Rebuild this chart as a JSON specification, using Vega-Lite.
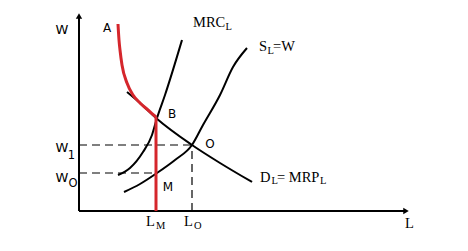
{
  "$schema": "https://vega.github.io/schema/vega-lite/v6.json",
  "width": 468,
  "height": 251,
  "autosize": {"type": "fit", "contains": "padding"},
  "padding": 0,
  "background": "white",
  "config": {"view": {"stroke": null}},
  "encoding": {
    "x": {"type": "quantitative", "scale": {"domain": [-79, 389]}, "axis": null},
    "y": {"type": "quantitative", "scale": {"domain": [-40, 211]}, "axis": null}
  },
  "layer": [
    {
      "data": {"values": [
        {"x": 0, "y": 0, "x2": 0, "y2": 194},
        {"x": 0, "y": 0, "x2": 326, "y2": 0}
      ]},
      "mark": {"type": "rule", "color": "black", "strokeWidth": 2},
      "encoding": {"x": {"field": "x"}, "y": {"field": "y"}, "x2": {"field": "x2"}, "y2": {"field": "y2"}}
    },
    {
      "data": {"values": [{"x": 0, "y": 195}]},
      "mark": {"type": "point", "shape": "triangle-up", "filled": true, "color": "black", "size": 40, "opacity": 1},
      "encoding": {"x": {"field": "x"}, "y": {"field": "y"}}
    },
    {
      "data": {"values": [{"x": 327, "y": 0}]},
      "mark": {"type": "point", "shape": "triangle-right", "filled": true, "color": "black", "size": 40, "opacity": 1},
      "encoding": {"x": {"field": "x"}, "y": {"field": "y"}}
    },
    {
      "data": {"values": [
        {"x": 0, "y": 66, "x2": 113, "y2": 66},
        {"x": 0, "y": 38, "x2": 78, "y2": 38},
        {"x": 113, "y": 0, "x2": 113, "y2": 66}
      ]},
      "mark": {"type": "rule", "color": "black", "strokeWidth": 1.2, "strokeDash": [8, 5]},
      "encoding": {"x": {"field": "x"}, "y": {"field": "y"}, "x2": {"field": "x2"}, "y2": {"field": "y2"}}
    },
    {
      "data": {"values": [
        {"c": "MRC", "o": 1, "x": 39, "y": 36},
        {"c": "MRC", "o": 2, "x": 51, "y": 43},
        {"c": "MRC", "o": 3, "x": 64, "y": 59},
        {"c": "MRC", "o": 4, "x": 73, "y": 76},
        {"c": "MRC", "o": 5, "x": 78, "y": 93},
        {"c": "MRC", "o": 6, "x": 86, "y": 116},
        {"c": "MRC", "o": 7, "x": 103, "y": 171},
        {"c": "S", "o": 1, "x": 45, "y": 19},
        {"c": "S", "o": 2, "x": 61, "y": 27},
        {"c": "S", "o": 3, "x": 78, "y": 38},
        {"c": "S", "o": 4, "x": 96, "y": 51},
        {"c": "S", "o": 5, "x": 113, "y": 66},
        {"c": "S", "o": 6, "x": 124, "y": 86},
        {"c": "S", "o": 7, "x": 141, "y": 116},
        {"c": "S", "o": 8, "x": 154, "y": 144},
        {"c": "S", "o": 9, "x": 168, "y": 163},
        {"c": "D", "o": 1, "x": 48, "y": 119},
        {"c": "D", "o": 2, "x": 61, "y": 108},
        {"c": "D", "o": 3, "x": 77, "y": 93},
        {"c": "D", "o": 4, "x": 113, "y": 66},
        {"c": "D", "o": 5, "x": 141, "y": 48},
        {"c": "D", "o": 6, "x": 173, "y": 29}
      ]},
      "mark": {"type": "line", "color": "black", "strokeWidth": 2, "interpolate": "monotone"},
      "encoding": {"x": {"field": "x"}, "y": {"field": "y"}, "detail": {"field": "c"}, "order": {"field": "o"}}
    },
    {
      "data": {"values": [
        {"c": "A", "o": 1, "x": 39, "y": 187},
        {"c": "A", "o": 2, "x": 40, "y": 171},
        {"c": "A", "o": 3, "x": 41, "y": 161},
        {"c": "A", "o": 4, "x": 43, "y": 146},
        {"c": "A", "o": 5, "x": 48, "y": 128},
        {"c": "A", "o": 6, "x": 54, "y": 116},
        {"c": "A", "o": 7, "x": 61, "y": 108},
        {"c": "A", "o": 8, "x": 69, "y": 101},
        {"c": "A", "o": 9, "x": 77, "y": 94},
        {"c": "V", "o": 1, "x": 77, "y": 94},
        {"c": "V", "o": 2, "x": 77, "y": 0}
      ]},
      "mark": {"type": "line", "color": "#d5262c", "strokeWidth": 3, "interpolate": "monotone"},
      "encoding": {"x": {"field": "x"}, "y": {"field": "y"}, "detail": {"field": "c"}, "order": {"field": "o"}}
    },
    {
      "data": {"values": [
        {"t": "W", "x": -17, "y": 181},
        {"t": "W", "x": -17, "y": 63},
        {"t": "W", "x": -17, "y": 33}
      ]},
      "mark": {"type": "text", "font": "DejaVu Sans", "fontSize": 13, "align": "center", "baseline": "middle", "color": "black"},
      "encoding": {"x": {"field": "x"}, "y": {"field": "y"}, "text": {"field": "t"}}
    },
    {
      "data": {"values": [
        {"t": "A", "x": 28, "y": 183},
        {"t": "B", "x": 93, "y": 97},
        {"t": "O", "x": 131, "y": 67},
        {"t": "M", "x": 89, "y": 24}
      ]},
      "mark": {"type": "text", "font": "DejaVu Sans", "fontSize": 12, "align": "center", "baseline": "middle", "color": "black"},
      "encoding": {"x": {"field": "x"}, "y": {"field": "y"}, "text": {"field": "t"}}
    },
    {
      "data": {"values": [
        {"t": "1", "x": -7.5, "y": 55},
        {"t": "O", "x": -6, "y": 27}
      ]},
      "mark": {"type": "text", "font": "DejaVu Sans", "fontSize": 11.5, "align": "center", "baseline": "middle", "color": "black"},
      "encoding": {"x": {"field": "x"}, "y": {"field": "y"}, "text": {"field": "t"}}
    },
    {
      "data": {"values": [
        {"t": "MRC", "x": 114, "y": 188},
        {"t": "S", "x": 180, "y": 164},
        {"t": "=W", "x": 194, "y": 164},
        {"t": "D", "x": 181, "y": 33},
        {"t": "= MRP", "x": 198, "y": 33},
        {"t": "L", "x": 67, "y": -11},
        {"t": "L", "x": 105, "y": -11},
        {"t": "L", "x": 326, "y": -13}
      ]},
      "mark": {"type": "text", "font": "Liberation Serif", "fontSize": 14.5, "align": "left", "baseline": "middle", "color": "black"},
      "encoding": {"x": {"field": "x"}, "y": {"field": "y"}, "text": {"field": "t"}}
    },
    {
      "data": {"values": [
        {"t": "L", "x": 146.5, "y": 184},
        {"t": "L", "x": 188.5, "y": 160.5},
        {"t": "L", "x": 192.5, "y": 30},
        {"t": "L", "x": 241, "y": 30},
        {"t": "M", "x": 77, "y": -14.5},
        {"t": "O", "x": 115, "y": -14.5}
      ]},
      "mark": {"type": "text", "font": "Liberation Serif", "fontSize": 10.5, "align": "left", "baseline": "middle", "color": "black"},
      "encoding": {"x": {"field": "x"}, "y": {"field": "y"}, "text": {"field": "t"}}
    }
  ]
}
